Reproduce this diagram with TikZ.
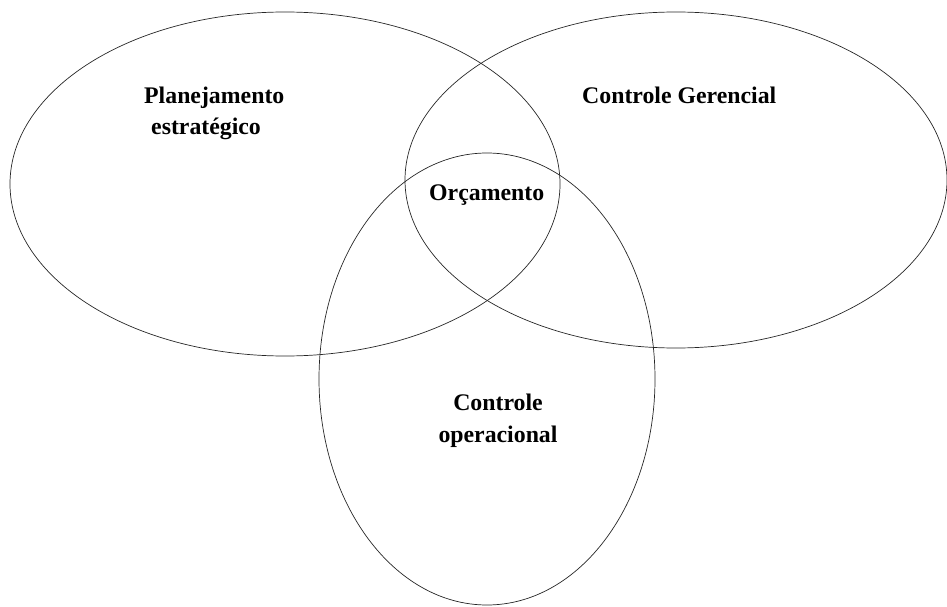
\documentclass[tikz,border=0pt]{standalone}
\usepackage{fontspec}
\setmainfont{Liberation Serif}
\begin{document}
\begin{tikzpicture}[x=1pt,y=-1pt,
    lbl/.style={font=\bfseries\fontsize{23.8}{31.5}\selectfont,inner sep=0pt}]
    \useasboundingbox (0,0) rectangle (947,607);
    \draw[line width=0.7pt,black!85](285,184) ellipse (275pt and 172pt);
    \draw[line width=0.7pt,black!85](676,180) ellipse (271pt and 168pt);
    \draw[line width=0.7pt,black!85](487,379) ellipse (168pt and 226pt);
    \node[lbl,align=left,anchor=base west] (plan) at (144,135) {Planejamento\\\hspace{7pt}estratégico};
    \node[lbl,anchor=base west] (ger) at (582,104) {Controle Gerencial};
    \node[lbl,anchor=base west] (orc) at (429,200) {Orçamento};
    \node[lbl,align=center,anchor=base] (oper) at (498,442) {Controle\\operacional};
\end{tikzpicture}
\end{document}
